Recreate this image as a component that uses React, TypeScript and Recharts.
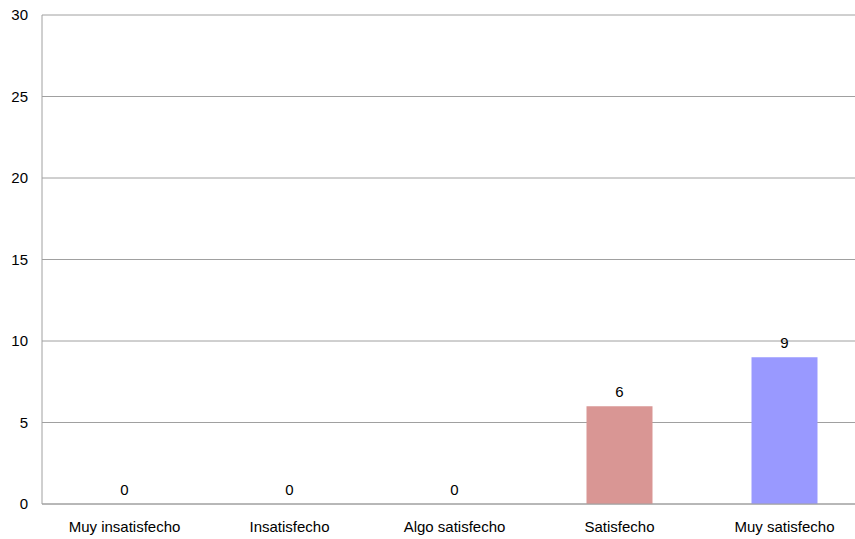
import { ComposedChart, Bar, Line, XAxis, YAxis, CartesianGrid, Cell, LabelList } from 'recharts';

const CATEGORIES = ['Muy insatisfecho', 'Insatisfecho', 'Algo satisfecho', 'Satisfecho', 'Muy satisfecho'];
const VALUES = [0, 0, 0, 6, 9];
const BAR_COLORS = ['#9999ff', '#993366', '#ffffcc', '#d99694', '#9999ff'];
const Y_TICKS = [0, 5, 10, 15, 20, 25, 30];

const data = CATEGORIES.map((name, i) => ({ name, value: VALUES[i] }));

const FONT = '"Liberation Sans", Arial, sans-serif';

export default function App() {
  return (
    <div style={{ position: 'absolute', left: 0, top: 0, width: 855, height: 539, overflow: 'hidden', background: '#fff' }}>
      <ComposedChart
        width={867}
        height={539}
        data={data}
        margin={{ top: 15, right: 0, bottom: 0, left: 0 }}
        barCategoryGap="30%"
      >
        <CartesianGrid vertical={false} stroke="#a0a0a0" strokeWidth={1} />
        <XAxis
          dataKey="name"
          height={35}
          tickLine={false}
          axisLine={{ stroke: '#a0a0a0' }}
          tickMargin={11}
          interval={0}
          tick={{ fill: '#000', fontSize: 15, fontFamily: FONT }}
        />
        <YAxis
          width={42}
          domain={[0, 30]}
          ticks={Y_TICKS}
          tickLine={false}
          tickSize={0}
          tickMargin={14}
          axisLine={{ stroke: '#a0a0a0' }}
          tick={{ fill: '#000', fontSize: 15, fontFamily: FONT }}
        />
        <Bar dataKey="value" isAnimationActive={false}>
          {data.map((_, index) => (
            <Cell key={`cell-${index}`} fill={BAR_COLORS[index]} />
          ))}
        </Bar>
        {/* invisible series, only carries the value labels (also the zeros) */}
        <Line dataKey="value" stroke="none" dot={false} activeDot={false} isAnimationActive={false}>
          <LabelList dataKey="value" position="top" offset={9} fill="#000" fontSize={15} fontFamily={FONT} />
        </Line>
      </ComposedChart>
    </div>
  );
}
